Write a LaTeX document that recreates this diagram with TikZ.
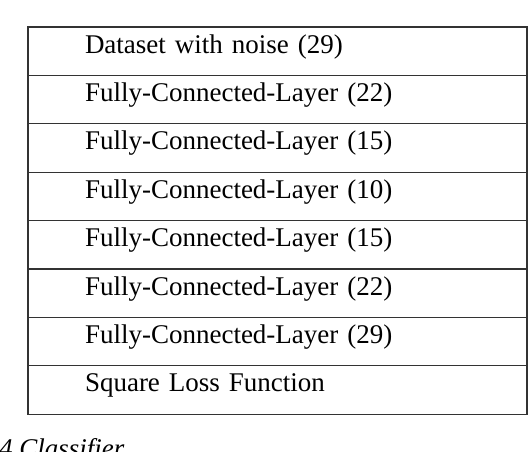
\documentclass[tikz,border=0pt]{standalone}
\usepackage{fontspec}
\setmainfont{Liberation Serif}
\usetikzlibrary{positioning}
\definecolor{Rule}{HTML}{333333}

\begin{document}
\begin{tikzpicture}[
      x=1pt, y=1pt,
      node distance=0pt,
      every node/.style={font=\fontsize{27}{32}\selectfont},
      layer/.style={draw=Rule, line width=1.1pt, rectangle, align=left,
        text width=385pt, inner xsep=57pt, inner ysep=0pt, outer sep=0pt,
        minimum height=48.4pt, text height=19pt, text depth=15pt}
    ]
    \useasboundingbox (0,0) rectangle (530,452);
    \node[layer, anchor=north west] (data) at (28,425) {Dataset with noise (29)};
    \node[layer, below=of data] (fca) {Fully-Connected-Layer (22)};
    \node[layer, below=of fca] (fcb) {Fully-Connected-Layer (15)};
    \node[layer, below=of fcb] (fcc) {Fully-Connected-Layer (10)};
    \node[layer, below=of fcc] (fcd) {Fully-Connected-Layer (15)};
    \node[layer, below=of fcd] (fce) {Fully-Connected-Layer (22)};
    \node[layer, below=of fce] (fcf) {Fully-Connected-Layer (29)};
    \node[layer, below=of fcf] (loss) {Square Loss Function};

    % caption, cut by the page edge
    \node[anchor=base west, inner sep=0pt, font=\fontsize{27}{32}\selectfont\itshape] (caption) at (-1,-6) {4 Classifier};
  \end{tikzpicture}
\end{document}
